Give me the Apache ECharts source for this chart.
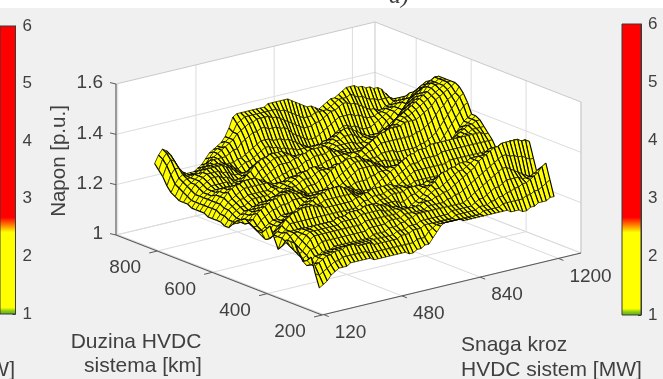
<!DOCTYPE html>
<html><head><meta charset="utf-8">
<style>html,body{margin:0;padding:0;background:#fff}#c{width:663px;height:379px}</style>
<script src="https://cdn.jsdelivr.net/npm/echarts@6/dist/echarts.min.js"></script>
</head><body><div id="c"></div>
<script>
// Tick labels
const powerTicks = [120, 480, 840, 1200];
const lengthTicks = [200, 400, 600, 800];
const voltageTicks = [1, 1.2, 1.4, 1.6];
// Axis extents
const powerRange = [112, 1304];
const lengthRange = [200, 950];
const voltageRange = [1, 1.6];
// Surface sample positions
const powerStart = 100, powerStep = 18;
const lengthStart = 800, lengthStep = -15;
// Voltage in hundredths of p.u., one row per line length (800 km first, 200 km last)
const L800 = [135,138,140,139,137,134,131,129,128,128,128,129,130,132,134,135,136,137,139,142,146,147,147,147,147,147,147,147,147,148,148,148,148,148,148,147,146,145,144,143,143,142,141,142,143,144,144,145,146,147,147,147,146,146,145,145,144,144,143,141,139];
const L785 = [133,137,139,138,135,132,130,128,128,128,129,130,131,133,135,136,136,138,139,141,144,145,146,146,146,146,146,146,146,146,146,145,145,144,143,142,141,140,140,140,141,141,141,141,142,143,144,144,144,145,144,143,143,142,141,141,140,140,140,140,139];
const L770 = [131,135,137,136,133,131,129,128,128,129,130,131,133,134,135,136,137,138,139,141,142,143,144,144,145,145,145,145,144,144,143,142,141,140,139,138,137,137,137,138,138,139,140,141,141,142,143,143,142,142,141,140,139,138,138,137,137,138,138,139,140];
const L755 = [128,132,134,134,132,131,130,130,130,131,132,133,134,134,134,134,135,136,136,138,139,140,141,141,142,142,141,141,141,140,140,139,137,136,135,134,133,133,133,134,135,136,137,138,139,139,139,139,138,138,137,136,136,136,137,137,138,138,139,140,141];
const L740 = [126,129,131,132,131,131,131,132,132,133,133,133,133,133,132,132,132,133,133,134,135,136,137,138,138,138,137,137,137,136,136,135,134,133,132,131,130,130,130,130,131,132,134,135,136,136,135,135,134,133,133,133,134,135,136,137,138,139,140,141,142];
const L725 = [125,128,130,131,131,132,132,133,133,134,134,134,133,133,132,131,130,131,132,132,133,134,135,136,136,135,135,134,134,133,133,132,132,132,132,132,132,132,132,133,133,134,134,134,134,134,133,132,131,130,130,130,131,133,135,136,138,139,141,142,144];
const L710 = [124,127,129,130,131,132,133,134,134,134,134,134,133,132,131,130,129,129,130,130,131,132,133,133,133,132,132,131,131,130,130,130,130,131,132,133,133,134,134,135,135,135,134,133,132,131,130,129,128,127,127,128,129,131,133,135,137,139,141,143,145];
const L695 = [124,126,128,130,131,132,133,133,133,133,132,132,131,130,130,130,130,131,132,132,133,133,133,132,131,130,130,129,129,128,128,129,130,131,132,134,134,135,136,137,137,137,136,135,134,133,132,131,130,129,129,130,132,134,136,138,140,142,144,146,147];
const L680 = [124,125,127,129,130,131,132,132,132,131,131,130,129,129,130,131,132,133,134,134,134,133,132,131,130,129,128,128,127,127,127,128,129,130,132,134,135,136,137,138,139,139,138,137,136,135,134,133,132,132,132,133,135,137,139,141,143,145,147,148,149];
const L665 = [123,125,127,128,129,130,130,130,130,130,129,129,129,130,131,133,134,135,136,136,137,136,135,134,133,132,131,131,130,130,130,130,131,132,133,134,135,136,136,137,137,137,136,135,135,135,135,135,135,135,135,136,138,140,142,144,146,147,149,150,151];
const L650 = [123,125,127,128,129,129,129,129,128,128,128,129,130,132,133,135,136,137,137,138,138,138,138,137,136,135,134,134,133,133,133,133,133,133,134,134,135,135,135,135,135,134,134,134,135,135,136,136,137,137,138,139,141,143,145,147,148,149,150,151,152];
const L635 = [123,125,127,128,129,130,130,130,129,129,129,130,130,131,131,133,134,135,136,137,137,137,137,137,136,136,136,136,136,136,136,136,135,135,135,134,134,134,134,133,133,133,133,134,135,136,137,138,139,140,141,142,144,145,147,149,150,151,152,153,154];
const L620 = [123,125,127,129,130,131,131,131,131,131,131,131,130,130,130,131,132,133,134,135,135,135,135,136,136,137,137,138,138,138,138,138,137,136,135,134,133,132,132,131,131,131,132,133,134,136,137,139,140,142,143,144,146,147,149,150,152,153,154,155,155];
const L605 = [122,125,127,129,130,131,132,132,132,133,133,133,132,131,130,130,130,131,131,132,132,133,133,133,134,135,135,136,136,136,136,137,136,136,135,135,134,133,133,133,134,134,135,136,137,139,140,141,143,144,145,146,148,149,150,151,153,154,154,155,155];
const L590 = [122,125,127,129,131,132,133,133,134,134,134,134,133,132,131,130,129,129,129,130,130,130,130,131,131,132,132,133,133,134,134,135,135,135,135,135,134,134,135,135,136,137,138,139,140,141,142,144,145,146,147,148,149,150,151,152,153,154,154,155,155];
const L575 = [122,124,126,128,129,130,131,132,132,132,132,132,132,132,131,131,131,131,131,132,132,132,132,132,132,131,131,131,131,131,131,132,133,134,135,136,136,136,137,138,139,140,140,141,142,142,143,144,145,145,146,147,148,149,150,151,152,153,154,155,155];
const L560 = [122,124,126,127,128,129,129,130,130,130,130,130,130,131,131,132,132,133,133,133,133,133,133,132,132,131,130,130,129,129,129,130,131,132,134,136,137,138,139,140,141,142,142,143,143,143,143,144,144,144,144,145,146,147,148,150,151,152,153,154,155];
const L545 = [121,123,125,126,127,127,128,129,129,129,129,129,130,131,131,132,133,134,134,135,135,135,135,134,134,133,133,132,132,131,131,131,132,133,134,135,136,137,137,138,139,139,139,139,139,139,139,139,139,140,140,141,142,143,145,147,148,150,151,152,154];
const L530 = [121,123,124,125,126,126,127,127,127,127,127,128,129,130,131,132,133,134,135,136,136,137,137,136,136,135,135,134,134,133,133,133,133,133,134,134,135,135,135,136,136,136,136,135,135,135,135,135,135,136,136,137,138,139,141,143,145,147,149,151,152];
const L515 = [123,123,124,126,127,127,128,129,129,129,129,130,131,131,132,132,132,133,134,134,134,135,136,136,136,136,137,136,137,136,136,136,136,135,135,135,134,134,134,134,133,133,133,132,132,132,132,132,132,133,133,134,135,136,138,140,142,144,146,148,149];
const L500 = [125,124,125,126,127,128,129,130,130,131,131,132,132,132,132,131,131,131,132,132,132,133,134,135,136,137,138,138,139,139,139,139,138,137,136,135,134,133,132,131,130,130,129,129,129,129,129,129,129,129,130,131,132,133,135,137,139,141,143,144,145];
const L485 = [126,124,125,127,128,129,130,131,131,132,132,133,133,132,132,131,131,130,130,130,130,130,131,132,133,134,135,136,137,138,138,138,137,137,136,135,134,133,133,132,132,132,132,132,132,132,132,132,132,133,133,134,135,136,138,139,141,142,143,144,145];
const L470 = [127,125,126,128,129,130,131,132,132,133,133,133,133,132,132,131,130,129,129,128,128,128,129,130,131,132,133,134,135,136,136,136,136,136,135,135,134,134,134,134,134,134,134,134,134,135,135,135,135,136,136,137,138,139,140,141,142,143,143,144,144];
const L455 = [126,124,124,126,127,128,129,129,130,130,130,131,131,131,131,131,131,131,131,130,130,130,131,131,131,131,131,132,132,132,132,133,133,134,134,134,135,135,135,136,136,136,137,137,137,138,138,138,138,138,138,139,139,140,140,141,141,142,142,142,142];
const L440 = [125,123,123,124,125,126,126,127,127,127,127,128,129,130,131,132,132,133,133,133,133,133,133,132,131,131,130,130,129,129,129,130,131,132,133,134,135,136,137,138,139,139,140,140,140,141,141,141,141,141,141,141,141,141,141,141,141,141,141,140,140];
const L425 = [124,122,122,123,125,126,126,127,128,128,128,129,130,131,132,133,133,134,134,134,134,134,133,132,131,130,130,129,128,128,127,128,129,130,131,132,133,134,135,136,136,136,137,137,137,137,137,138,138,138,138,138,138,138,138,138,138,138,138,138,138];
const L410 = [124,121,122,123,125,126,127,128,128,129,129,130,131,132,133,134,134,135,135,135,135,134,133,132,131,130,129,128,127,126,126,126,127,128,129,130,131,132,133,134,134,134,134,134,134,134,134,134,135,135,135,135,135,135,135,135,135,135,135,135,135];
const L395 = [126,122,123,125,127,128,129,130,130,130,131,131,131,131,131,132,132,132,132,132,132,132,132,131,131,131,131,130,130,130,129,129,129,130,130,130,130,130,131,131,131,131,131,131,131,131,131,131,131,132,132,132,132,133,133,134,135,135,135,136,136];
const L380 = [128,124,125,127,129,130,131,131,132,132,132,132,131,131,130,130,130,130,130,130,130,130,131,131,132,132,133,133,133,133,133,133,132,132,131,130,130,129,129,128,128,128,128,128,128,128,128,128,128,129,129,130,130,131,132,133,134,135,136,136,137];
const L365 = [124,124,125,126,128,128,128,128,128,128,128,128,128,128,128,128,128,128,128,128,128,128,129,130,130,131,131,131,131,132,132,132,132,132,131,131,131,131,131,131,131,131,131,131,131,131,131,131,131,132,132,133,133,134,134,135,136,136,137,138,138];
const L350 = [120,124,126,126,126,126,126,125,125,125,125,125,125,125,126,126,126,126,127,127,127,127,128,128,129,129,130,130,130,131,131,131,131,132,132,132,132,132,133,133,133,133,133,133,133,133,133,133,134,134,134,135,135,136,136,137,138,138,139,140,140];
const L335 = [122,123,125,126,126,127,127,127,127,127,127,127,127,127,127,128,128,128,129,129,129,129,130,129,129,129,129,129,129,129,128,128,129,130,130,131,132,132,133,134,135,135,136,136,136,136,136,137,137,137,137,138,138,139,139,139,140,140,140,141,141];
const L320 = [125,122,123,125,126,127,127,128,128,128,128,128,128,129,129,129,130,130,130,130,131,131,131,130,130,129,129,128,128,127,126,126,127,128,129,130,132,133,134,136,137,137,138,138,139,139,139,140,140,140,140,141,141,141,141,141,142,142,142,142,142];
const L305 = [125,121,122,124,126,127,127,127,127,127,127,127,127,128,128,128,128,128,129,129,129,129,129,129,128,128,128,128,128,128,127,127,127,128,129,130,131,132,132,133,134,135,136,137,137,138,139,140,141,141,142,143,143,143,143,143,144,144,143,143,143];
const L290 = [125,120,121,123,125,126,126,126,126,126,126,126,126,126,126,126,126,126,127,127,127,127,127,127,127,127,127,128,128,128,128,128,128,129,129,129,130,130,131,131,132,133,134,135,136,137,138,140,141,142,143,144,144,145,145,145,145,145,144,144,143];
const L275 = [122,119,120,122,122,123,124,124,124,124,124,124,124,124,124,124,124,124,125,125,125,125,125,126,126,126,126,127,127,127,127,127,127,128,128,128,128,128,129,129,130,130,131,132,133,134,135,136,137,138,139,140,141,141,140,140,139,139,138,137,137];
const L260 = [119,117,118,120,120,121,121,121,122,122,122,122,122,122,122,122,122,122,123,123,123,123,124,124,124,125,125,126,126,127,127,127,127,127,127,127,127,127,127,127,127,127,128,129,130,131,132,133,134,135,136,137,137,136,135,134,133,132,131,131,131];
const L245 = [120,118,118,120,121,121,121,122,122,122,122,122,122,122,122,122,122,122,122,122,122,122,122,123,123,123,124,124,124,125,125,125,125,125,125,125,125,126,126,126,126,126,126,127,128,128,129,130,131,131,132,133,133,133,133,132,132,132,133,134,134];
const L230 = [122,118,119,120,121,121,122,122,122,123,123,123,122,122,122,122,121,121,121,121,121,121,121,122,122,122,123,123,123,124,124,124,124,124,124,124,124,125,125,125,125,125,125,126,126,126,127,127,128,128,129,129,130,130,131,131,132,133,134,136,137];
const L215 = [116,115,116,117,118,119,119,120,120,120,120,120,120,120,119,119,119,119,119,119,119,119,119,119,119,119,120,120,120,122,123,124,124,124,124,124,124,124,124,124,124,124,124,125,125,125,125,125,126,126,126,126,126,126,127,127,128,128,129,130,131];
const L200 = [111,112,113,115,116,117,117,117,118,118,118,118,118,118,117,117,117,117,117,117,117,117,117,116,116,117,117,118,118,120,122,124,125,125,125,125,125,124,124,124,124,124,124,124,124,124,124,124,124,123,123,123,122,122,123,123,124,124,124,125,125];
const surfaceRows = [L800,L785,L770,L755,L740,L725,L710,L695,L680,L665,L650,L635,L620,L605,L590,L575,L560,L545,L530,L515,L500,L485,L470,L455,L440,L425,L410,L395,L380,L365,L350,L335,L320,L305,L290,L275,L260,L245,L230,L215,L200];
// Colour bar
const barRange = [1, 6];
const barStops = [1, 1.06, 1.12, 2.42, 2.5, 2.58, 2.68, 6];
const barColors = ['#55aa22', '#88cc11', '#ffff00', '#ffff00', '#ffb000', '#ff6000', '#ff0000', '#ff0000'];
const surfaceColor = '#ffff00';
const powerTitle = ['Snaga kroz', 'HVDC sistem [MW]'];
const lengthTitle = ['Duzina HVDC', 'sistema [km]'];
const voltageTitle = 'Napon [p.u.]';
const caseLabel = 'a)';

// Oblique view: unit steps along each data axis to page pixels
const view = {ox: 322, oy: 315, px: 259 / (powerRange[1] - powerRange[0]), py: -62 / (powerRange[1] - powerRange[0]),
  lx: -206 / (lengthRange[1] - lengthRange[0]), ly: -80 / (lengthRange[1] - lengthRange[0]), zy: -151 / (voltageRange[1] - voltageRange[0])};
function project(p, l, z) {
  const dp = p - powerRange[0], dl = l - lengthRange[0], dz = z - voltageRange[0];
  return [view.ox + dp * view.px + dl * view.lx, view.oy + dp * view.py + dl * view.ly + dz * view.zy];
}
const P0 = powerRange[0], P1 = powerRange[1], L0 = lengthRange[0], L1 = lengthRange[1], Z0 = voltageRange[0], Z1 = voltageRange[1];
const pageSeries = (renderItem, data, z) => ({type: 'custom', coordinateSystem: 'cartesian2d', xAxisIndex: 0, yAxisIndex: 0, silent: true,
  animation: false, progressive: 0, clip: false, z: z, data: data, renderItem: renderItem, encode: {x: 0, y: 1}});

const TXT = '#404040', FONT = '"Liberation Sans", Arial, sans-serif';
function line(api, a, b, color, w) {
  const s = api.coord(a), e = api.coord(b);
  return {type: 'line', shape: {x1: s[0], y1: s[1], x2: e[0], y2: e[1]}, style: {stroke: color, lineWidth: w}};
}
function poly(api, pts, fill) {
  return {type: 'polygon', shape: {points: pts.map(q => api.coord(q))}, style: {fill: fill, stroke: fill, lineWidth: 0.3}};
}
function text(api, at, str, align, size, rot, family, italic) {
  const c = api.coord(at);
  return {type: 'text', x: c[0], y: c[1], rotation: rot || 0, style: {x: 0, y: 0, text: str, fill: TXT, align: align, verticalAlign: 'middle',
    font: (italic ? 'italic ' : '') + size + 'px ' + (family || FONT)}};
}
function renderBox(params, api) {
  const kids = [];
  const G = '#dcdcdc', E = '#c9c9c9', A = '#5a5a5a';
  kids.push(poly(api, [project(P0, L1, Z0), project(P0, L1, Z1), project(P1, L1, Z1), project(P1, L1, Z0)], '#fff'));
  kids.push(poly(api, [project(P1, L1, Z0), project(P1, L1, Z1), project(P1, L0, Z1), project(P1, L0, Z0)], '#fff'));
  kids.push(poly(api, [project(P0, L0, Z0), project(P0, L1, Z0), project(P1, L1, Z0), project(P1, L0, Z0)], '#fff'));
  powerTicks.forEach(p => {
    kids.push(line(api, project(p, L0, Z0), project(p, L1, Z0), G, 1));
    kids.push(line(api, project(p, L1, Z0), project(p, L1, Z1), G, 1));
  });
  lengthTicks.forEach(l => {
    kids.push(line(api, project(P0, l, Z0), project(P1, l, Z0), G, 1));
    kids.push(line(api, project(P1, l, Z0), project(P1, l, Z1), G, 1));
  });
  voltageTicks.forEach(z => {
    kids.push(line(api, project(P0, L1, z), project(P1, L1, z), z === Z1 ? E : G, 1));
    kids.push(line(api, project(P1, L1, z), project(P1, L0, z), z === Z1 ? E : G, 1));
  });
  kids.push(line(api, project(P1, L1, Z0), project(P1, L0, Z0), G, 1));
  kids.push(line(api, project(P0, L1, Z0), project(P1, L1, Z0), G, 1));
  kids.push(line(api, project(P1, L1, Z0), project(P1, L1, Z1), E, 1));
  kids.push(line(api, project(P1, L0, Z0), project(P1, L0, Z1), E, 1));
  kids.push(line(api, project(P0, L1, Z0), project(P0, L1, Z1), A, 1.2));
  kids.push(line(api, project(P0, L0, Z0), project(P0, L1, Z0), A, 1.2));
  kids.push(line(api, project(P0, L0, Z0), project(P1, L0, Z0), A, 1.2));
  voltageTicks.forEach(z => {
    const s = project(P0, L1, z);
    kids.push(line(api, s, [s[0] - 6, s[1] - 1.4], A, 1));
    kids.push(text(api, [s[0] - 13, s[1] - 1], String(z), 'right', 19));
  });
  lengthTicks.forEach(l => {
    const s = project(P0, l, Z0);
    kids.push(line(api, s, [s[0] - 8, s[1] + 2], A, 1));
    kids.push(text(api, [s[0] - 32, s[1] + 17], String(l), 'center', 19));
  });
  powerTicks.forEach(p => {
    const s = project(p, L0, Z0);
    kids.push(line(api, s, [s[0] + 5, s[1] + 2], A, 1));
    kids.push(text(api, [s[0] + 11, s[1] + 18], String(p), 'left', 19));
  });
  kids.push(text(api, [136, 342], lengthTitle[0], 'center', 21));
  kids.push(text(api, [143, 366], lengthTitle[1], 'center', 21));
  kids.push(text(api, [461, 345], powerTitle[0], 'left', 21));
  kids.push(text(api, [461, 370], powerTitle[1], 'left', 21));
  kids.push(text(api, [15, 370], '[MW]', 'right', 21));
  kids.push(text(api, [59, 161], voltageTitle, 'center', 20.5, Math.PI / 2));
  kids.push(text(api, [389, -3], caseLabel, 'left', 24, 0, '"Liberation Serif", serif', true));
  return {type: 'group', children: kids};
}
const cells = [];
for (let r = 0; r < surfaceRows.length - 1; r++)
  for (let c = surfaceRows[r].length - 2; c >= 0; c--) cells.push([r, c]);
function corner(r, c) {
  return project(powerStart + powerStep * c, lengthStart + lengthStep * r, surfaceRows[r][c] / 100);
}
function renderCell(params, api) {
  const r = api.value(0), c = api.value(1);
  const a = corner(r, c), b = corner(r, c + 1), d = corner(r + 1, c + 1), e = corner(r + 1, c);
  return {type: 'group', children: [
    poly(api, [a, b, d, e], surfaceColor),
    line(api, a, e, '#000', 1.15), line(api, b, d, '#000', 1.15),
    line(api, a, b, '#000', 0.7), line(api, e, d, '#000', 0.7)
  ]};
}
function renderBar(params, api) {
  const a = api.coord([0, api.value(1)]), b = api.coord([0, api.value(2)]);
  const cs = params.coordSys, span = barRange[1] - barRange[0];
  const stops = barStops.map((v, i) => ({offset: (barRange[1] - v) / span, color: barColors[i]})).reverse();
  return {type: 'rect', shape: {x: cs.x, y: b[1], width: cs.width, height: a[1] - b[1]},
    style: {fill: new echarts.graphic.LinearGradient(0, 0, 0, 1, stops), stroke: '#3a3a3a', lineWidth: 1}};
}
const barAxis = i => ({type: 'value', gridIndex: i, position: 'right', min: barRange[0], max: barRange[1], interval: 1,
  axisLine: {show: true, onZero: false, lineStyle: {color: '#3a3a3a'}}, axisTick: {show: true, inside: true, length: 3, lineStyle: {color: '#3a3a3a'}},
  splitLine: {show: false}, axisLabel: {color: TXT, fontSize: 17, margin: 7, fontFamily: FONT, showMinLabel: true, showMaxLabel: true}});
const barSeries = i => ({type: 'custom', xAxisIndex: i, yAxisIndex: i, coordinateSystem: 'cartesian2d', silent: true, animation: false, z: 5,
  data: [[0, barRange[0], barRange[1]]], renderItem: renderBar, encode: {y: [1, 2]}});

const chart = echarts.init(document.getElementById('c'), null, {renderer: 'canvas'});
chart.setOption({
  animation: false,
  backgroundColor: '#fff',
  graphic: [{type: 'rect', z: -1, silent: true, shape: {x: 0, y: 8, width: 663, height: 371}, style: {fill: '#f0f0f0'}}],
  grid: [
    {left: 0, top: 0, width: 663, height: 379},
    {left: -6, top: 26, width: 21.5, height: 288},
    {left: 622, top: 24, width: 19, height: 291}
  ],
  xAxis: [
    {type: 'value', gridIndex: 0, min: 0, max: 663, show: false},
    {type: 'value', gridIndex: 1, min: 0, max: 1, show: false},
    {type: 'value', gridIndex: 2, min: 0, max: 1, show: false}
  ],
  yAxis: [
    {type: 'value', gridIndex: 0, min: 0, max: 379, inverse: true, show: false},
    barAxis(1),
    barAxis(2)
  ],
  series: [
    pageSeries(renderBox, [[0, 0]], 2),
    pageSeries(renderCell, cells, 3),
    barSeries(1),
    barSeries(2)
  ]
});
</script></body></html>
